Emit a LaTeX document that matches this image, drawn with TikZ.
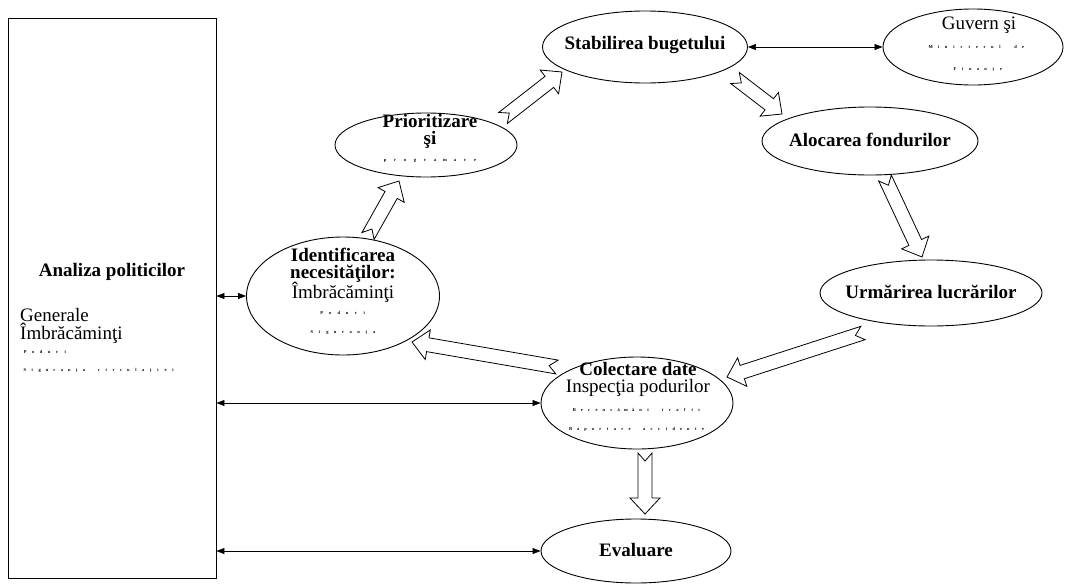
\documentclass[tikz,border=0pt]{standalone}
\usepackage{fontspec}
\setmainfont{Liberation Serif}
\usetikzlibrary{shapes.geometric,arrows.meta,calc}

% letter-spaced small print: every character sits in a box of fixed width
\makeatletter
\newcommand\spaced[2]{\@tfor\sp@c:=#2\do{\makebox[#1]{\sp@c}}}
\makeatother

% hollow block arrow with notched tail, from #1 to #2
\newcommand\flow[2]{%
  \draw[hollow] let \p1=($(#2)-(#1)$), \n1={atan2(\y1,\x1)},
      \n2={veclen(\x1,\y1)-16pt} in
    ($(#1)+(\n1+90:7pt)$) -- ($(#1)+(\n1:\n2)+(\n1+90:7pt)$)
    -- ($(#1)+(\n1:\n2)+(\n1+90:15pt)$) -- (#2)
    -- ($(#1)+(\n1:\n2)+(\n1-90:15pt)$) -- ($(#1)+(\n1:\n2)+(\n1-90:7pt)$)
    -- ($(#1)+(\n1-90:7pt)$) -- ($(#1)+(\n1:8pt)$) -- cycle;}

\tikzset{
  bubble/.style={draw, ellipse, line width=0.9pt, inner sep=0pt},
  lbl/.style={font=\fontsize{19}{20}\selectfont, inner sep=0pt},
  blbl/.style={font=\fontsize{19}{20}\selectfont\bfseries, inner sep=0pt},
  small/.style={font=\fontsize{4.5}{5}\selectfont\bfseries, inner sep=0pt},
  link/.style={line width=0.7pt, {Triangle[length=8pt,width=6pt]}-{Triangle[length=8pt,width=6pt]}},
  hollow/.style={line width=0.8pt, fill=white, line join=miter},
}

\begin{document}
\begin{tikzpicture}[x=1pt, y=-1pt]
\fill[white] (0,0) rectangle (1065,584);
\useasboundingbox (0,0) rectangle (1065,584);

% policy panel
\node[draw, line width=0.9pt, minimum width=208pt, minimum height=560pt, inner sep=0pt] (panel) at (112,298) {};
\node[blbl] (panel-t) at (112,272) {Analiza politicilor};
\node[lbl, anchor=west] (panel-a) at (20,315) {Generale};
\node[lbl, anchor=west] (panel-b) at (20,333) {Îmbrăcăminţi};
\node[small, anchor=west] (panel-c) at (21,352) {\spaced{8pt}{Poduri}};
\node[small, anchor=west] (panel-d) at (21,370) {\spaced{7.4pt}{Siguranţa~circulaţiei}};

% cycle stages
\node[bubble, minimum width=193pt, minimum height=118pt] (ident) at (343,296) {};
\node[blbl] (ident-a) at (343,255) {Identificarea};
\node[blbl] (ident-b) at (343,274) {necesităţilor:};
\node[lbl] (ident-c) at (343,292) {Îmbrăcăminţi};
\node[small] (ident-d) at (343,313) {\spaced{8.5pt}{Poduri}};
\node[small] (ident-e) at (343,332) {\spaced{7.8pt}{Siguranţa}};

\node[bubble, minimum width=182pt, minimum height=64pt] (prio) at (426,145) {};
\node[blbl] (prio-a) at (430,121) {Prioritizare};
\node[blbl] (prio-b) at (430,140) {şi};
\node[small] (prio-c) at (430,161) {\spaced{10pt}{programare}};

\node[bubble, minimum width=205pt, minimum height=72pt] (budget) at (645,47) {};
\node[blbl] (budget-t) at (645,45) {Stabilirea bugetului};

\node[bubble, minimum width=180pt, minimum height=76pt] (gov) at (973,47) {};
\node[lbl] (gov-a) at (979,25) {Guvern şi};
\node[small] (gov-b) at (977,47) {\spaced{7.7pt}{Ministerul~de}};
\node[small] (gov-c) at (978,69) {\spaced{7.7pt}{Finanţe}};

\node[bubble, minimum width=216pt, minimum height=68pt] (alloc) at (870,141) {};
\node[blbl] (alloc-t) at (870,140) {Alocarea fondurilor};

\node[bubble, minimum width=222pt, minimum height=66pt] (track) at (931,293) {};
\node[blbl] (track-t) at (931,292) {Urmărirea lucrărilor};

\node[bubble, minimum width=192pt, minimum height=92pt] (collect) at (637,403) {};
\node[blbl] (collect-a) at (638,369) {Colectare date};
\node[lbl] (collect-b) at (638,388) {Inspecţia podurilor};
\node[small] (collect-c) at (637,410) {\spaced{7.35pt}{Recensământ~trafic}};
\node[small] (collect-d) at (637,429) {\spaced{7.35pt}{Raportare~accidente}};

\node[bubble, minimum width=190pt, minimum height=64pt] (eval) at (636,551) {};
\node[blbl] (eval-t) at (636,550) {Evaluare};

% two-way links
\draw[link] (ident.west -| panel.east) -- (ident.west);
\draw[link] (collect.west -| panel.east) -- (collect.west);
\draw[link] (eval.west -| panel.east) -- (eval.west);
\draw[link] (budget.east) -- (gov.west);

% flow of the cycle
\coordinate (f1s) at (368,236); \coordinate (f1e) at (399,181);
\coordinate (f2s) at (503,118); \coordinate (f2e) at (562,72);
\coordinate (f3s) at (735,78);  \coordinate (f3e) at (782,114);
\coordinate (f4s) at (885,178); \coordinate (f4e) at (922,257);
\coordinate (f5s) at (863,333); \coordinate (f5e) at (727,377);
\coordinate (f6s) at (557,367); \coordinate (f6e) at (412,342);
\coordinate (f7s) at (645,453); \coordinate (f7e) at (645,514);
\flow{f1s}{f1e}
\flow{f2s}{f2e}
\flow{f3s}{f3e}
\flow{f4s}{f4e}
\flow{f5s}{f5e}
\flow{f6s}{f6e}
\flow{f7s}{f7e}
\end{tikzpicture}
\end{document}
